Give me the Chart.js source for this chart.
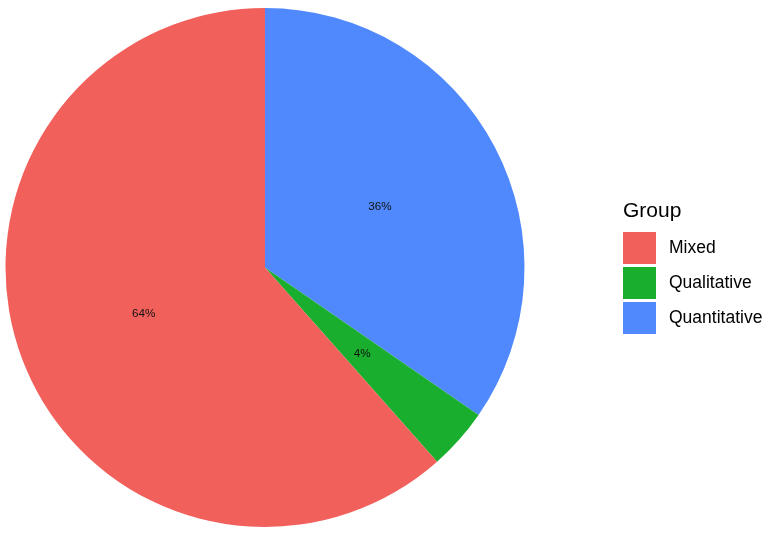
<!DOCTYPE html>
<html>
<head>
<meta charset="utf-8">
<script src="https://cdn.jsdelivr.net/npm/chart.js@4/dist/chart.umd.min.js"></script>
<style>
html,body{margin:0;padding:0;background:#fff;}
#wrap{width:765px;height:533px;position:relative;}
</style>
</head>
<body>
<div id="wrap"><canvas id="c" width="765" height="533"></canvas></div>
<script>
// Data (legend order)
const groups = ["Mixed", "Qualitative", "Quantitative"];
const counts = [16, 1, 9];
const pctLabels = ["64%", "4%", "36%"];
const colors = ["#F2605C", "#19AE2E", "#5089FE"];
const legendTitle = "Group";

// ggplot draws the last level first, clockwise from 12 o'clock
const order = [2, 1, 0];
const dsLabels = order.map(i => groups[i]);
const dsData = order.map(i => counts[i]);
const dsColors = order.map(i => colors[i]);
const dsText = order.map(i => pctLabels[i]);

const labelPlugin = {
  id: 'sliceLabels',
  afterDatasetsDraw(chart) {
    const ctx = chart.ctx;
    const meta = chart.getDatasetMeta(0);
    ctx.save();
    ctx.font = '11.7px "Liberation Sans", Arial, sans-serif';
    ctx.fillStyle = '#111';
    ctx.textAlign = 'center';
    ctx.textBaseline = 'middle';
    meta.data.forEach((arc, i) => {
      const p = arc.getCenterPoint();
      ctx.fillText(dsText[i], p.x, p.y);
    });
    ctx.restore();
  }
};

const legendPlugin = {
  id: 'ggLegend',
  afterDraw(chart) {
    const ctx = chart.ctx;
    const x0 = 623, titleBase = 217, boxTop = 232, pitch = 35, bw = 33, bh = 32;
    ctx.save();
    ctx.fillStyle = '#000';
    ctx.font = '21px "Liberation Sans", Arial, sans-serif';
    ctx.textAlign = 'left';
    ctx.textBaseline = 'alphabetic';
    ctx.fillText(legendTitle, x0, titleBase);
    ctx.font = '17.5px "Liberation Sans", Arial, sans-serif';
    ctx.textBaseline = 'middle';
    groups.forEach((g, i) => {
      const y = boxTop + i * pitch;
      ctx.fillStyle = colors[i];
      ctx.fillRect(x0, y, bw, bh);
      ctx.fillStyle = '#000';
      ctx.fillText(g, 669, y + bh / 2 + 0.5);
    });
    ctx.restore();
  }
};

new Chart(document.getElementById('c'), {
  type: 'pie',
  data: {
    labels: dsLabels,
    datasets: [{
      data: dsData,
      backgroundColor: dsColors,
      borderWidth: 0,
      hoverOffset: 0
    }]
  },
  options: {
    responsive: false,
    animation: false,
    events: [],
    layout: { padding: { left: 5, top: 8, right: 240, bottom: 6 } },
    plugins: {
      legend: { display: false },
      tooltip: { enabled: false }
    }
  },
  plugins: [labelPlugin, legendPlugin]
});
</script>
</body>
</html>
